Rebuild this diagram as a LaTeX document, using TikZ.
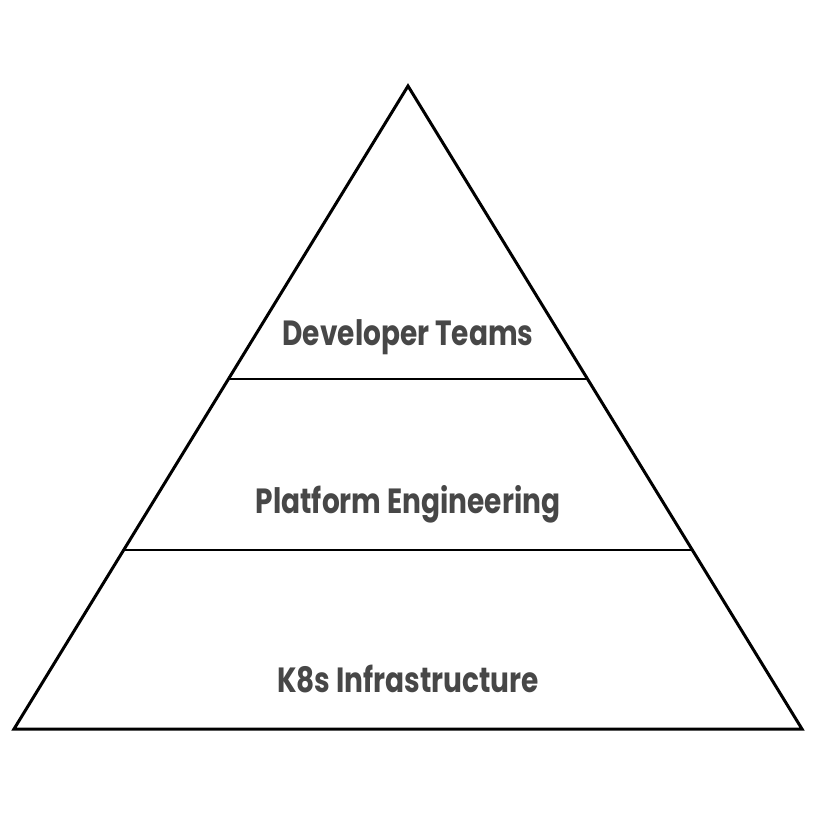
\documentclass[tikz,border=0pt]{standalone}
\usepackage{fontspec}
\setmainfont{Poppins}
\definecolor{txtgray}{HTML}{474747}
\newcommand{\narrowtxt}[1]{\scalebox{0.8}[1]{#1}}
\begin{document}
\begin{tikzpicture}[x=1pt,y=-1pt,
  edge/.style={line width=3pt, line join=miter, black},
  label/.style={anchor=base, inner sep=0pt, text=txtgray, font=\fontsize{35}{40}\selectfont\bfseries}]
\useasboundingbox (0,0) rectangle (816,816);
\coordinate (apex) at (408,86);
\coordinate (bl) at (14,729);
\coordinate (br) at (802,729);
\coordinate (l1) at (228.5,379);
\coordinate (r1) at (587.5,379);
\coordinate (l2) at (123.7,550);
\coordinate (r2) at (692.3,550);
\draw[edge] (apex) -- (br) -- (bl) -- cycle;
\draw[edge, line width=2.5pt] (l1) -- (r1);
\draw[edge, line width=2.5pt] (l2) -- (r2);
\node[label] (dev) at (408,345) {\narrowtxt{Developer Teams}};
\node[label] (plat) at (408,513) {\narrowtxt{Platform Engineering}};
\node[label] (k8s) at (408,692) {\narrowtxt{K8s Infrastructure}};
\end{tikzpicture}
\end{document}
